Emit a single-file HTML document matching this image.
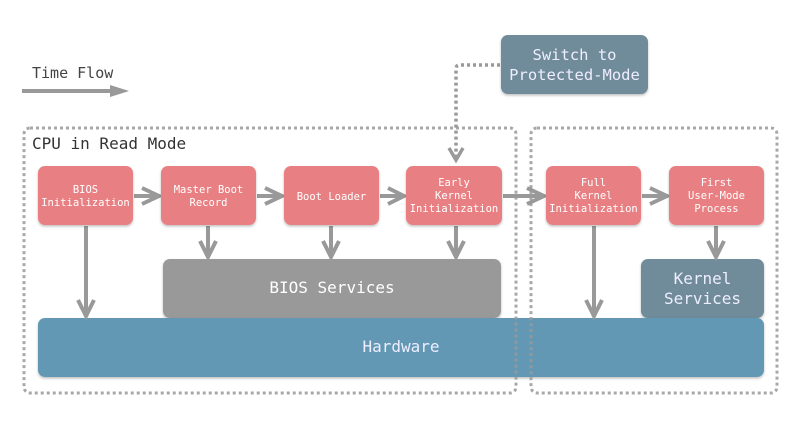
<!DOCTYPE html>
<html><head><meta charset="utf-8"><style>
html,body{margin:0;padding:0;background:#fff;}
svg{display:block;}
text{font-family:"DejaVu Sans Mono","Liberation Mono",monospace;}
</style></head><body>
<svg width="800" height="422" viewBox="0 0 800 422" xmlns="http://www.w3.org/2000/svg">
<defs>
<filter id="sh" x="-10%" y="-10%" width="120%" height="130%"><feDropShadow dx="0" dy="1.5" stdDeviation="1.2" flood-color="#000" flood-opacity="0.25"/></filter>
</defs>
<!-- time flow -->
<text x="32" y="78" font-size="15" fill="#444">Time Flow</text>
<line x1="22" y1="91" x2="112" y2="91" stroke="#999" stroke-width="4"/>
<polygon points="110,85 129,91 110,97" fill="#999"/>

<!-- switch box -->
<rect x="501" y="35" width="147" height="59" rx="7" fill="#6f8b99" filter="url(#sh)"/>
<text x="574.5" y="60" font-size="15.5" fill="#eef" text-anchor="middle">Switch to</text>
<text x="574.5" y="80" font-size="15.5" fill="#eef" text-anchor="middle">Protected-Mode</text>
<path d="M500,65 H460 Q456,65 456,69 V158" fill="none" stroke="#999" stroke-width="3.5" stroke-dasharray="3,3"/>
<polyline points="449,148 456,160 463,148" fill="none" stroke="#999" stroke-width="3.5"/>

<!-- gray & blue boxes -->
<rect x="163" y="259" width="338" height="59" rx="7" fill="#999" filter="url(#sh)"/>
<text x="332" y="293" font-size="16" fill="#fff" text-anchor="middle">BIOS Services</text>
<rect x="641" y="259" width="123" height="59" rx="7" fill="#6f8b99" filter="url(#sh)"/>
<text x="702.5" y="284" font-size="16" fill="#eef" text-anchor="middle">Kernel</text>
<text x="702.5" y="304" font-size="16" fill="#eef" text-anchor="middle">Services</text>
<rect x="38" y="318" width="726" height="59" rx="7" fill="#6298b4" filter="url(#sh)"/>
<text x="401" y="352" font-size="16" fill="#eef" text-anchor="middle">Hardware</text>

<!-- dotted containers -->
<rect x="24" y="128" width="492" height="265" rx="6" fill="none" stroke="#999" stroke-width="3" stroke-dasharray="3,3" opacity="0.85"/>
<rect x="531" y="128" width="246" height="265" rx="6" fill="none" stroke="#999" stroke-width="3" stroke-dasharray="3,3" opacity="0.85"/>
<text x="32" y="149" font-size="16" fill="#333">CPU in Read Mode</text>

<!-- vertical arrows -->
<g stroke="#999" stroke-width="4" fill="none">
<line x1="86" y1="226" x2="86" y2="316"/><polyline points="78,300 86,316 94,300"/>
<line x1="208" y1="226" x2="208" y2="257"/><polyline points="200,241 208,257 216,241"/>
<line x1="331" y1="226" x2="331" y2="257"/><polyline points="323,241 331,257 339,241"/>
<line x1="456" y1="226" x2="456" y2="257"/><polyline points="448,241 456,257 464,241"/>
<line x1="594" y1="226" x2="594" y2="316"/><polyline points="586,300 594,316 602,300"/>
<line x1="716" y1="226" x2="716" y2="257"/><polyline points="708,241 716,257 724,241"/>
<!-- horizontal arrows -->
<line x1="134" y1="196" x2="159" y2="196"/><polyline points="142,188 159,196 142,204"/>
<line x1="257" y1="196" x2="282" y2="196"/><polyline points="265,188 282,196 265,204"/>
<line x1="380" y1="196" x2="404" y2="196"/><polyline points="388,188 404,196 388,204"/>
<line x1="503" y1="196" x2="544" y2="196"/><polyline points="527,188 544,196 527,204"/>
<line x1="642" y1="196" x2="667" y2="196"/><polyline points="650,188 667,196 650,204"/>
</g>

<!-- red boxes -->
<g fill="#e88083" filter="url(#sh)">
<rect x="38" y="166" width="95" height="59" rx="7"/>
<rect x="161" y="166" width="95" height="59" rx="7"/>
<rect x="284" y="166" width="95" height="59" rx="7"/>
<rect x="406" y="166" width="96" height="59" rx="7"/>
<rect x="546" y="166" width="95" height="59" rx="7"/>
<rect x="669" y="166" width="95" height="59" rx="7"/>
</g>
<g font-size="10.5" fill="#fff" text-anchor="middle">
<text x="85.5" y="193">BIOS</text><text x="85.5" y="206">Initialization</text>
<text x="208.5" y="193">Master Boot</text><text x="208.5" y="206">Record</text>
<text x="331.5" y="200">Boot Loader</text>
<text x="454" y="186">Early</text><text x="454" y="199">Kernel</text><text x="454" y="212">Initialization</text>
<text x="593.5" y="186">Full</text><text x="593.5" y="199">Kernel</text><text x="593.5" y="212">Initialization</text>
<text x="716.5" y="186">First</text><text x="716.5" y="199">User-Mode</text><text x="716.5" y="212">Process</text>
</g>
</svg>
</body></html>
